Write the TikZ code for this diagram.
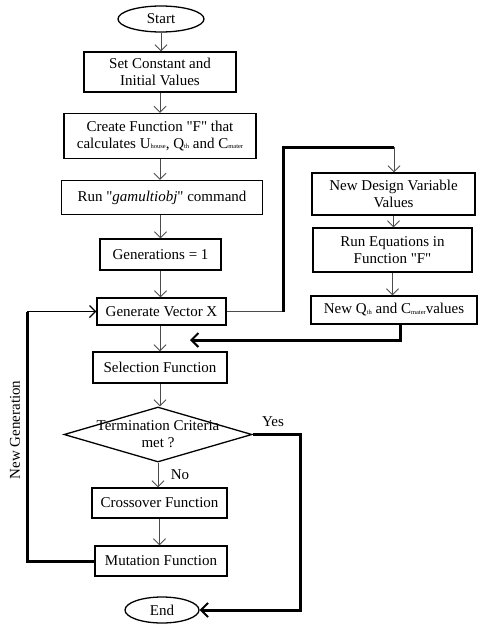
\documentclass[tikz,border=0pt]{standalone}
\usepackage{fontspec}
\setmainfont{Liberation Serif}[Ligatures=TeXOff]
\usetikzlibrary{arrows.meta,shapes.geometric}
\newcommand\subsc[1]{\raisebox{-0.3pt}{\fontsize{6.5}{6.5}\selectfont #1}}
\begin{document}
\begin{tikzpicture}[x=1pt,y=-1pt,
  every node/.style={font=\fontsize{15}{17}\selectfont},
  box/.style={draw, line width=1.3pt, align=center, inner sep=0pt},
  term/.style={draw, ellipse, line width=1.3pt, inner sep=0pt},
  thin/.style={draw=black!70, line width=0.9pt, -{Straight Barb[length=6pt,width=12pt]}},
  thickln/.style={line width=3pt},
  thickarr/.style={line width=3pt, -{Straight Barb[length=7pt,width=14pt,line width=2pt]}},
  medarr/.style={line width=1.6pt, -{Straight Barb[length=6pt,width=12pt,line width=1.2pt]}},
  lbl/.style={inner sep=0pt}]
\useasboundingbox (0,0) rectangle (489,624);

\node[term, minimum width=86pt, minimum height=26pt] (start) at (161,19) {Start};
\node[box, minimum width=152pt, minimum height=40pt] (b1) at (160,72) {Set Constant and\\Initial Values};
\node[box, minimum width=192pt, minimum height=45pt] (b2) at (160,136) {Create Function "F" that\\calculates U\subsc{house}, Q\subsc{th} and C\subsc{mater}};
\node[box, minimum width=201pt, minimum height=34pt] (b3) at (162,197.5) {Run "\textit{gamultiobj}" command};
\node[box, minimum width=121pt, minimum height=31pt] (b4) at (160.5,254.5) {Generations = 1};
\node[box, minimum width=129pt, minimum height=27pt] (b5) at (161.5,311.5) {Generate Vector X};

\node[box, minimum width=163pt, minimum height=42pt] (nd) at (393.5,194) {New Design Variable\\Values};
\node[box, minimum width=159pt, minimum height=44pt] (re) at (392.5,250) {Run Equations in\\Function "F"};
\node[box, minimum width=166pt, minimum height=28pt] (nq) at (394,310) {New Q\subsc{th} and C\subsc{mater}values};

\node[box, minimum width=134pt, minimum height=31pt] (sel) at (160,367.5) {Selection Function};
\node[draw, diamond, line width=1.3pt, minimum width=188pt, minimum height=55pt, inner sep=0pt] (dec) at (158,434.5) {};
\node[align=center, inner sep=0pt] (dect) at (158,434) {Termination Criteria\\met ?};
\node[box, minimum width=135pt, minimum height=30pt] (cro) at (159.5,503) {Crossover Function};
\node[box, minimum width=132pt, minimum height=30pt] (mut) at (161,561) {Mutation Function};
\node[term, minimum width=74pt, minimum height=26pt] (end) at (162,610) {End};

\node[lbl] (yes) at (273,422) {Yes};
\node[lbl] (no) at (180,475) {No};
\node[lbl, rotate=90] (ng) at (15,430) {New Generation};

% main column arrows
\draw[thin] (start.south) -- (start.south |- b1.north);
\draw[thin] (b1.south) -- (b1.south |- b2.north);
\draw[thin] (b2.south) -- (b2.south |- b3.north);
\draw[thin] (b4.north |- b3.south) -- (b4.north);
\draw[thin] (b4.south) -- (b4.south |- b5.north);
\draw[thin] (sel.north |- b5.south) -- (sel.north);
\draw[thin] (sel.south) -- (sel.south |- dec.north);
\draw[thin] (dec.south) -- (dec.south |- cro.north);
\draw[thin] (cro.south) -- (cro.south |- mut.north);

% right loop
\coordinate (c1) at (283,311.5);
\coordinate (c2) at (283,147);
\coordinate (c3) at (394,147);
\draw[draw=black!70, line width=0.9pt] (b5.east) -- (c1);
\draw[thickln] (c1) -- (c2) -- (c3);
\draw[thin] (c3) -- (c3 |- nd.north);
\draw[thin] (nd.south) -- (nd.south |- re.north);
\draw[thin] (re.south) -- (re.south |- nq.north);
\coordinate (c4) at (400,340);
\coordinate (t1) at (190,340);
\draw[thickarr] (nq.south -| c4) -- (c4) -- (t1);

% yes path
\coordinate (c5) at (300,434.5);
\draw[thickarr] (dec.east) -- (c5) -- (c5 |- end.east) -- (end.east);

% new generation loop
\coordinate (c6) at (27,561);
\coordinate (c7) at (27,311.5);
\draw[thickln] (mut.west) -- (c6) -- (c7);
\draw[medarr] (c7) -- (b5.west);
\end{tikzpicture}
\end{document}
